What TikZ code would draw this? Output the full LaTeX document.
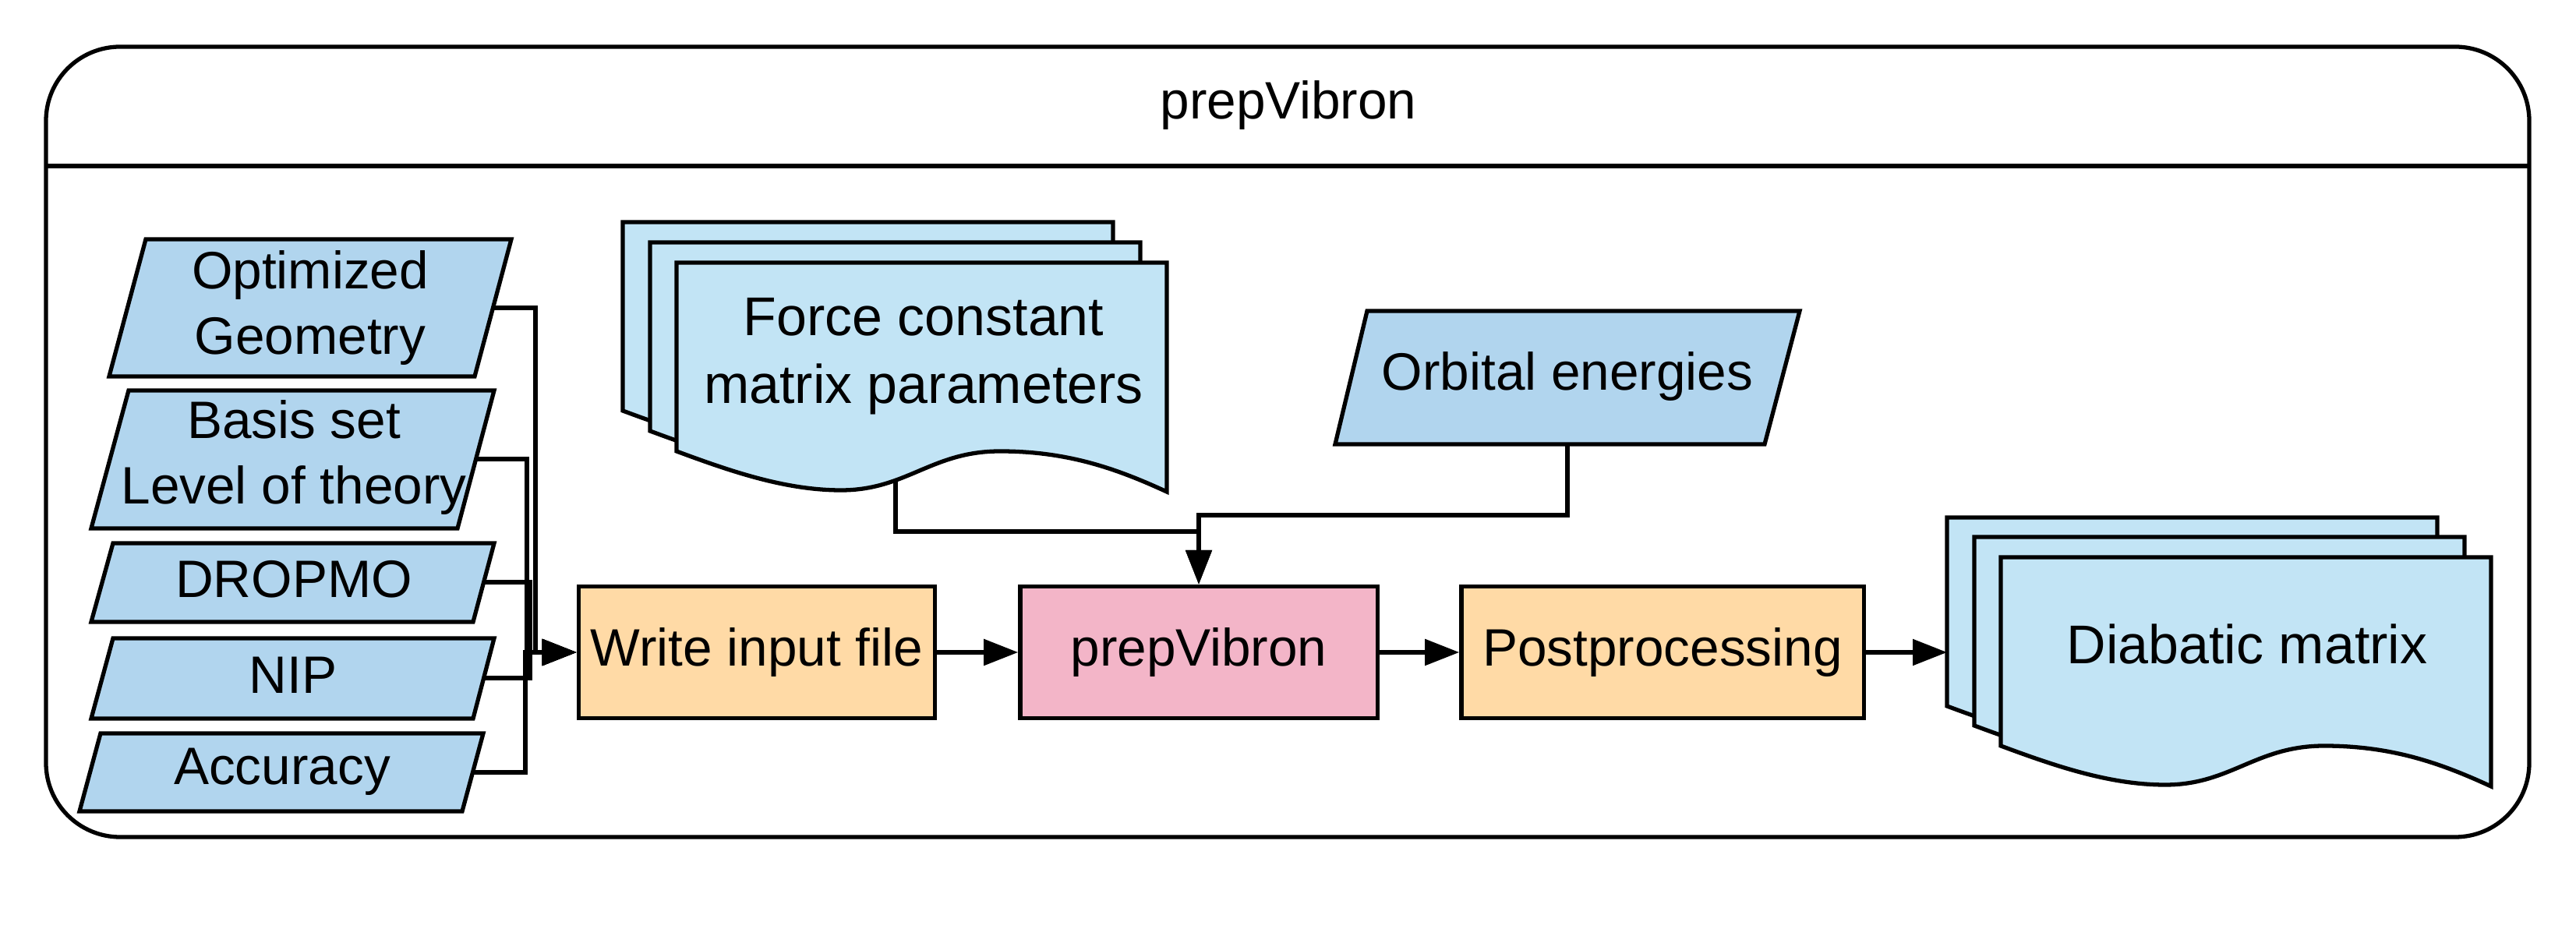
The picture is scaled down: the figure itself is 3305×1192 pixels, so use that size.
\documentclass[tikz,border=0pt]{standalone}
\usepackage{fontspec}
\setmainfont{Liberation Sans}
\usetikzlibrary{arrows.meta}
\definecolor{parablue}{RGB}{177,213,238}
\definecolor{docblue}{RGB}{194,228,245}
\definecolor{procorange}{RGB}{255,218,166}
\definecolor{progpink}{RGB}{243,181,200}
\newcommand{\lblfont}{\fontsize{19.2pt}{24pt}\selectfont}
\newcommand{\doclblfont}{\fontsize{19.9pt}{24.8pt}\selectfont}
\newcommand{\docpath}{(0,0) -- (629,0) -- (629,294) .. controls (566,265) and (503,242) .. (415,242) .. controls (327,242) and (295,292) .. (211,292) .. controls (140,292) and (70,268) .. (0,242) -- cycle}
\begin{document}
\begin{tikzpicture}[x=0.01cm,y=-0.01cm,
  shapeline/.style={line width=1.5pt, draw=black, line join=miter},
  para/.style={shapeline, fill=parablue},
  docsheet/.style={shapeline, fill=docblue},
  procbox/.style={shapeline, rectangle, inner sep=0pt, align=center, font=\lblfont, minimum height=1.69cm},
  lbl/.style={align=center, inner sep=0pt, font=\lblfont},
  doclbl/.style={align=center, inner sep=0pt, font=\doclblfont},
  conn/.style={line width=1.5pt, draw=black},
  arr/.style={conn, -{Triangle[length=0.44cm,width=0.33cm]}},
]
\useasboundingbox (0,0) rectangle (3305,1192);

% container
\draw[line width=1.5pt, rounded corners=0.95cm] (59,60) rectangle (3245,1074);
\draw[line width=1.5pt] (59,213) -- (3245,213);
\node[lbl] (title) at (1653,135) {prepVibron};

% input parallelograms
\path[para] (187,307) -- (656,307) -- (609,483) -- (140,483) -- cycle;
\path[para] (165,501) -- (634,501) -- (587,678) -- (117,678) -- cycle;
\path[para] (145,697) -- (634,697) -- (607,798) -- (117,798) -- cycle;
\path[para] (145,819) -- (634,819) -- (607,922) -- (117,922) -- cycle;
\path[para] (129,941) -- (620,941) -- (593,1041) -- (102,1041) -- cycle;
\path[para] (1754,399) -- (2309,399) -- (2264,570) -- (1713,570) -- cycle;

\node[lbl] (og) at (398,395) {Optimized\\Geometry};
\node[lbl] (bs) at (377,587) {Basis set\\Level of theory};
\node[lbl] (dr) at (377,743) {DROPMO};
\node[lbl] (nip) at (376,866) {NIP};
\node[lbl] (acc) at (362,990) {Accuracy};
\node[lbl] (oe) at (2011,483) {Orbital energies};

\coordinate (og-out) at (632,395);
\coordinate (bs-out) at (610,589);
\coordinate (dr-out) at (620,747);
\coordinate (nip-out) at (620,870);
\coordinate (acc-out) at (606,991);
\coordinate (oe-out) at (2011,570);

% force constant multi-document
\begin{scope}[shift={(799,285)}]\path[docsheet] \docpath;\end{scope}
\begin{scope}[shift={(834,311)}]\path[docsheet] \docpath;\end{scope}
\begin{scope}[shift={(868,337)}]\path[docsheet] \docpath;\end{scope}
\node[doclbl] (fc) at (1185,457) {Force constant\\matrix parameters};
\coordinate (fc-out) at (1149,615);

% diabatic matrix multi-document
\begin{scope}[shift={(2498,664)}]\path[docsheet] \docpath;\end{scope}
\begin{scope}[shift={(2533,689)}]\path[docsheet] \docpath;\end{scope}
\begin{scope}[shift={(2567,715)}]\path[docsheet] \docpath;\end{scope}
\node[doclbl] (dm) at (2883,826) {Diabatic matrix};
\coordinate (dm-in) at (2498,837);

% process boxes
\node[procbox, fill=procorange, minimum width=4.57cm] (wif) at (971,837) {Write input file};
\node[procbox, fill=progpink, minimum width=4.58cm] (pv) at (1538,837) {prepVibron};
\node[procbox, fill=procorange, minimum width=5.16cm] (pp) at (2133,837) {Postprocessing};

% connectors
\draw[arr] (og-out) -- (687,395) |- (wif.west);
\draw[arr] (bs-out) -- (676,589) |- (wif.west);
\draw[arr] (dr-out) -- (680,747) |- (wif.west);
\draw[arr] (nip-out) -- (680,870) |- (wif.west);
\draw[arr] (acc-out) -- (674,991) |- (wif.west);

\draw[arr] (oe-out) -- (2011,661) -| (pv.north);
\draw[arr] (fc-out) -- (1149,682) -| (pv.north);

\draw[arr] (wif.east) -- (pv.west);
\draw[arr] (pv.east) -- (pp.west);
\draw[arr] (pp.east) -- (dm-in);
\end{tikzpicture}
\end{document}
